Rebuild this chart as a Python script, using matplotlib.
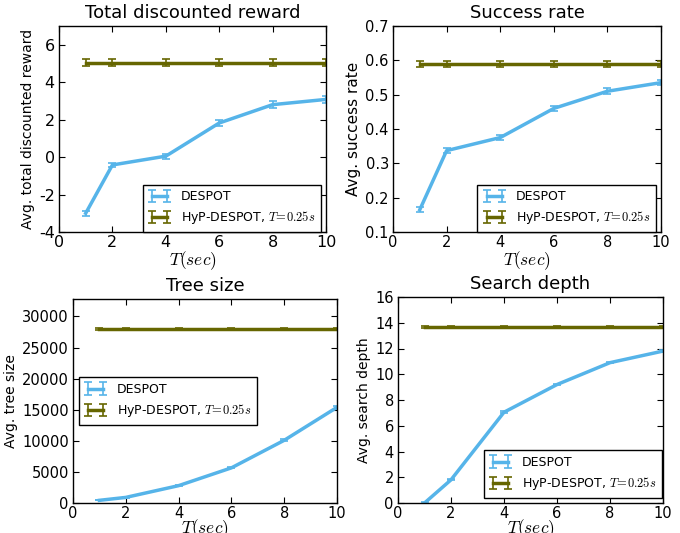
import matplotlib
matplotlib.use("Agg")
import matplotlib.pyplot as plt

# time budget (sec)
T = [1, 2, 4, 6, 8, 10]

reward_despot = [-3.0, -0.42, 0.05, 1.82, 2.8, 3.08]
reward_despot_err = [0.12, 0.12, 0.14, 0.16, 0.17, 0.18]
reward_hyp = [5.05, 5.05, 5.05, 5.05, 5.05, 5.05]
reward_hyp_err = [0.19, 0.19, 0.19, 0.19, 0.19, 0.19]

success_despot = [0.165, 0.337, 0.375, 0.46, 0.51, 0.535]
success_despot_err = [0.007, 0.008, 0.008, 0.008, 0.008, 0.008]
success_hyp = [0.589, 0.589, 0.589, 0.589, 0.589, 0.589]
success_hyp_err = [0.009, 0.009, 0.009, 0.009, 0.009, 0.009]

tree_despot = [430, 900, 2790, 5650, 10080, 15380]
tree_despot_err = [20, 30, 60, 100, 150, 250]
tree_hyp = [27980, 27980, 27980, 27980, 27980, 27980]
tree_hyp_err = [120, 120, 120, 120, 120, 120]

depth_despot = [0.0, 1.8, 7.05, 9.2, 10.9, 11.8]
depth_despot_err = [0.05, 0.05, 0.08, 0.05, 0.05, 0.05]
depth_hyp = [13.65, 13.65, 13.65, 13.65, 13.65, 13.65]
depth_hyp_err = [0.06, 0.06, 0.06, 0.06, 0.06, 0.06]

BLUE = "#56b4e9"
OLIVE = "#666600"

plt.rcParams.update({
    "font.family": "DejaVu Sans",
    "mathtext.fontset": "cm",
    "xtick.direction": "in",
    "ytick.direction": "in",
    "xtick.top": True,
    "ytick.right": True,
    "xtick.major.size": 4,
    "ytick.major.size": 4,
    "xtick.major.pad": 2.5,
    "ytick.major.pad": 3,
    "xtick.labelsize": 10.5,
    "ytick.labelsize": 10.5,
    "axes.linewidth": 1.0,
    "axes.formatter.useoffset": False,
    "axes.unicode_minus": False,
})

W, H = 680, 533


def px_axes(fig, left, right, top, bottom):
    return fig.add_axes([left / W, 1 - bottom / H, (right - left) / W, (bottom - top) / H])


def draw(ax, title, ylabel, d, d_err, h, h_err, ylim, yticks, leg_kw,
         ylab_size=10, tick_size=10.5, xlab_pad=-1):
    ax.errorbar(T, d, yerr=d_err, color=BLUE, lw=2.5, capsize=3, capthick=1.2,
                elinewidth=1.2, label="DESPOT")
    ax.errorbar(T, h, yerr=h_err, color=OLIVE, lw=2.5, capsize=3, capthick=1.2,
                elinewidth=1.2, label="HyP-DESPOT, $T\\!=\\!0.25s$")
    ax.set_xlim(0, 10)
    ax.set_ylim(*ylim)
    ax.set_xticks([0, 2, 4, 6, 8, 10])
    ax.set_yticks(yticks)
    ax.tick_params(labelsize=tick_size)
    ax.set_title(title, fontsize=13, pad=6)
    ax.set_ylabel(ylabel, fontsize=ylab_size, labelpad=3)
    ax.set_xlabel("$T(sec)$", fontsize=12.5, labelpad=xlab_pad)
    leg = ax.legend(fontsize=9, fancybox=False, framealpha=1, edgecolor="black",
                    borderaxespad=0, handlelength=1.8, handletextpad=0.8,
                    borderpad=0.45, numpoints=2, **leg_kw)
    leg.get_frame().set_linewidth(1.0)


fig = plt.figure(figsize=(W / 100, H / 100), dpi=100)

ax1 = px_axes(fig, 59, 326, 26, 232)
draw(ax1, "Total discounted reward", "Avg. total discounted reward",
     reward_despot, reward_despot_err, reward_hyp, reward_hyp_err,
     (-4, 7), [-4, -2, 0, 2, 4, 6],
     dict(loc="lower right", bbox_to_anchor=(0.98, 0.0)), tick_size=11.5)

ax2 = px_axes(fig, 393, 661, 26, 232)
draw(ax2, "Success rate", "Avg. success rate",
     success_despot, success_despot_err, success_hyp, success_hyp_err,
     (0.1, 0.7), [0.1, 0.2, 0.3, 0.4, 0.5, 0.6, 0.7],
     dict(loc="lower right", bbox_to_anchor=(0.98, 0.0)), ylab_size=11)

ax3 = px_axes(fig, 73, 337, 299, 503)
draw(ax3, "Tree size", "Avg. tree size",
     tree_despot, tree_despot_err, tree_hyp, tree_hyp_err,
     (0, 32800), [0, 5000, 10000, 15000, 20000, 25000, 30000],
     dict(loc="center left", bbox_to_anchor=(0.023, 0.5)), xlab_pad=-3)

ax4 = px_axes(fig, 398, 663, 297, 503)
draw(ax4, "Search depth", "Avg. search depth",
     depth_despot, depth_despot_err, depth_hyp, depth_hyp_err,
     (0, 16), [0, 2, 4, 6, 8, 10, 12, 14, 16],
     dict(loc="lower right", bbox_to_anchor=(0.997, 0.025)), xlab_pad=-3)

fig.savefig("out.png", dpi=100, facecolor="white")
